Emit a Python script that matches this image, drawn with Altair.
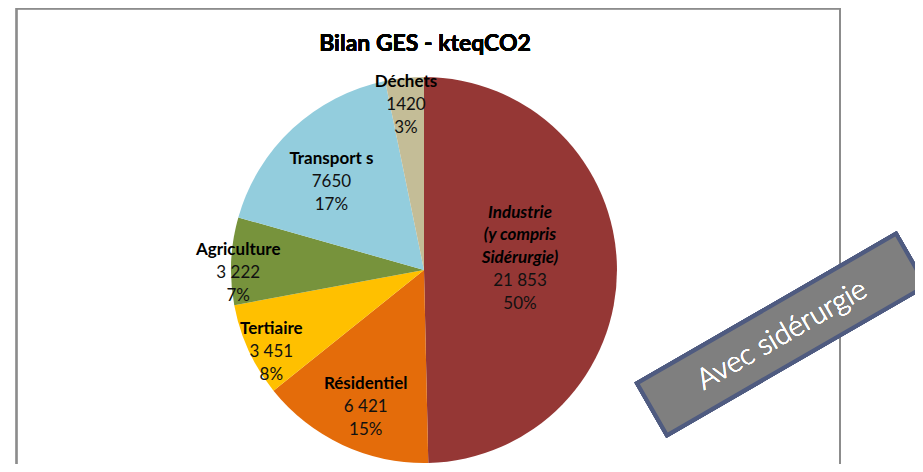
import altair as alt
import pandas as pd

# ---- data ----
categories = ["Industrie", "Résidentiel", "Tertiaire", "Agriculture", "Transports", "Déchets"]
name_labels = ["", "Résidentiel", "Tertiaire", "Agriculture", "Transport s", "Déchets"]
italic_labels = ["Industrie\n(y compris\nSidérurgie)", "", "", "", "", ""]
values = [21853, 6421, 3451, 3222, 7650, 1420]
value_labels = ["21 853", "6 421", "3 451", "3 222", "7650", "1420"]
pct_labels = ["50%", "15%", "8%", "7%", "17%", "3%"]
colors = ["#953735", "#E46C0A", "#FFC000", "#77933C", "#93CDDD", "#C4BD97"]

# label placement (style): distance of each label from the pie centre
label_radius = [96, 138, 168, 186, 136, 178]

df = pd.DataFrame({
    "idx": list(range(len(categories))),
    "cat": categories,
    "name": name_labels,
    "iname": italic_labels,
    "value": values,
    "nums": [v + "\n" + p for v, p in zip(value_labels, pct_labels)],
    "lr": label_radius,
})
total = float(sum(values))

FONT = "Lato"
CX, CY, R = 416, 262, 193
theta_scale = alt.Scale(domain=[0, total])

base = alt.Chart(df).transform_window(
    cum="sum(value)", sort=[alt.SortField("idx")], frame=[None, 0]
).transform_calculate(
    start="datum.cum - datum.value",
    mid="datum.cum - datum.value / 2",
).encode(x=alt.value(CX), y=alt.value(CY))

pie = base.mark_arc(radius=R).encode(
    theta=alt.Theta("start:Q", scale=theta_scale),
    theta2="cum:Q",
    color=alt.Color("cat:N", scale=alt.Scale(domain=categories, range=colors), legend=None),
)

lab = base.encode(
    theta=alt.Theta("mid:Q", scale=theta_scale),
    radius=alt.Radius("lr:Q", scale=None),
)

names = lab.mark_text(font=FONT, fontSize=17, fontWeight="bold", baseline="bottom",
                      dy=-2, color="#000000").encode(text="name:N")

inames = lab.mark_text(font=FONT, fontSize=17, fontWeight="bold", fontStyle="italic",
                       baseline="top", dy=-64, lineBreak="\n", lineHeight=22.5,
                       color="#000000").encode(text="iname:N")

nums = lab.mark_text(font=FONT, fontSize=17, baseline="top", dy=4, lineBreak="\n",
                     lineHeight=23, color="#111111").encode(text="nums:N")

frame = alt.Chart(df).mark_rect(fill="transparent", stroke="#8c8c8c", strokeWidth=1.5).encode(
    x=alt.value(8.5), x2=alt.value(832), y=alt.value(0.5), y2=alt.value(600))

title = alt.Chart(df).mark_text(text="Bilan GES - kteqCO2", font=FONT, fontSize=23,
                                fontWeight="bold", color="#000000", baseline="middle").encode(
    x=alt.value(417), y=alt.value(36))

badge = alt.Chart(df).mark_point(
    shape="M-1,-0.2L1,-0.2L1,0.2L-1,0.2Z", size=299 * 299, angle=330, filled=True,
    fill="#7f7f7f", stroke="#4f5b80", strokeWidth=4, opacity=1, fillOpacity=1
).encode(x=alt.value(773.5), y=alt.value(326.5))

badge_text = alt.Chart(df).mark_text(text="Avec sidérurgie", font=FONT, fontSize=29,
                                     fontWeight=300, angle=330, color="#ffffff",
                                     baseline="middle", align="center").encode(
    x=alt.value(774), y=alt.value(327))

chart = alt.layer(frame, title, pie, names, inames, nums, badge, badge_text).properties(
    width=907, height=456, autosize=alt.AutoSizeParams(type="none"), padding=0
).configure_view(stroke=None)

chart.save("out.html", embed_options={"renderer": "svg", "actions": False})
